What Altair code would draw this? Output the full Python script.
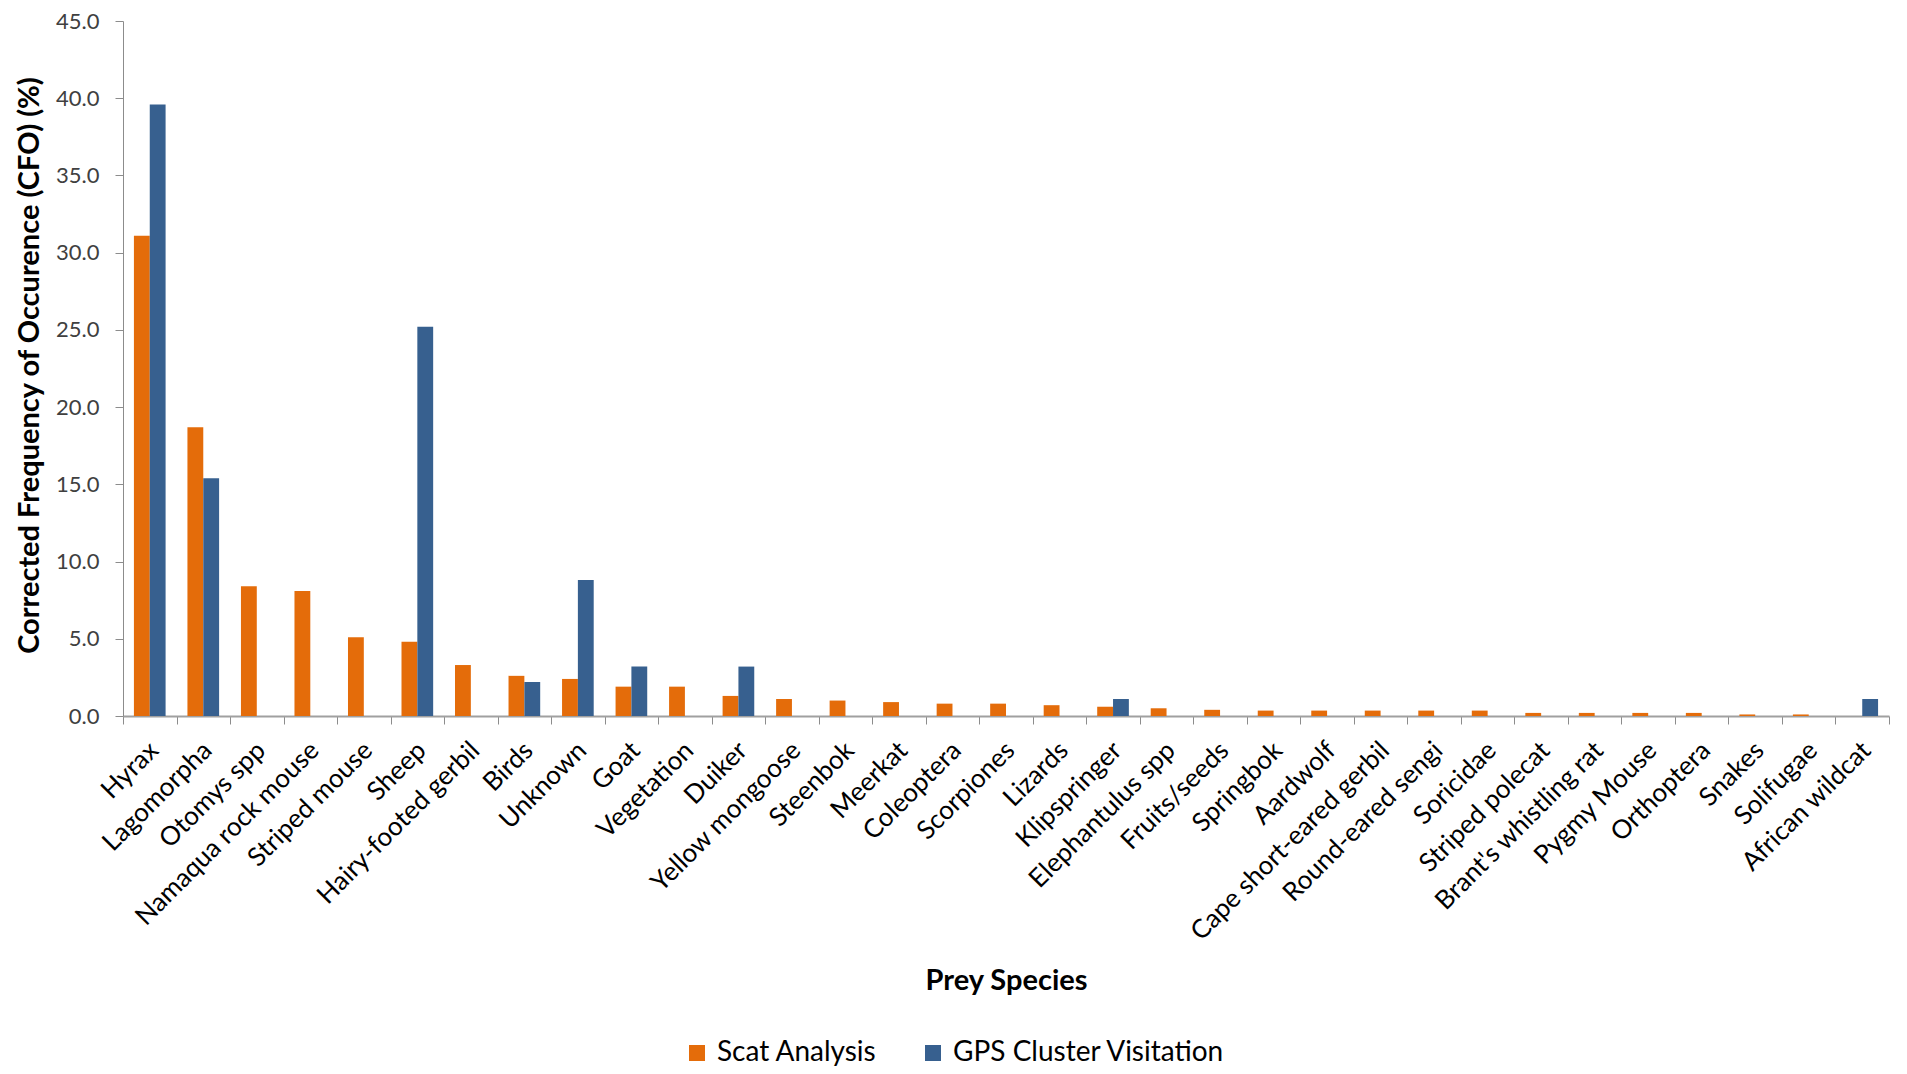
import altair as alt
import pandas as pd

species = ["Hyrax", "Lagomorpha", "Otomys spp", "Namaqua rock mouse", "Striped mouse",
           "Sheep", "Hairy-footed gerbil", "Birds", "Unknown", "Goat", "Vegetation",
           "Duiker", "Yellow mongoose", "Steenbok", "Meerkat", "Coleoptera", "Scorpiones",
           "Lizards", "Klipspringer", "Elephantulus spp", "Fruits/seeds", "Springbok",
           "Aardwolf", "Cape short-eared gerbil", "Round-eared sengi", "Soricidae",
           "Striped polecat", "Brant's whistling rat", "Pygmy Mouse", "Orthoptera",
           "Snakes", "Solifugae", "African wildcat"]
scat = [31.1, 18.7, 8.4, 8.1, 5.1, 4.8, 3.3, 2.6, 2.4, 1.9, 1.9,
        1.3, 1.1, 1.0, 0.9, 0.8, 0.8, 0.7, 0.6, 0.5, 0.4, 0.35,
        0.35, 0.35, 0.35, 0.35, 0.2, 0.2, 0.2, 0.2, 0.1, 0.1, 0.0]
gps = [39.6, 15.4, 0, 0, 0, 25.2, 0, 2.2, 8.8, 3.2, 0,
       3.2, 0, 0, 0, 0, 0, 0, 1.1, 0, 0, 0,
       0, 0, 0, 0, 0, 0, 0, 0, 0, 0, 1.1]
series = ["Scat Analysis", "GPS Cluster Visitation"]
colors = ["#E46C0A", "#37608F"]
y_ticks = [0, 5, 10, 15, 20, 25, 30, 35, 40, 45]

rows = []
for s, a, b in zip(species, scat, gps):
    rows.append({"species": s, "series": series[0], "value": a})
    rows.append({"species": s, "series": series[1], "value": b})
df = pd.DataFrame(rows)

FONT = "Lato"

chart = alt.Chart(df).mark_bar().encode(
    x=alt.X("species:N", sort=species,
            scale=alt.Scale(paddingInner=0, paddingOuter=0),
            axis=alt.Axis(title="Prey Species", labelAngle=-45, labelAlign="right",
                          labelBaseline="middle", labelFont=FONT,
                          labelFontSize=26, labelColor="#000000", labelLimit=600,
                          labelOverlap=False, labelPadding=22, labelOffset=4,
                          tickBand="extent",
                          tickSize=8, tickColor="#8C8C8C", domainColor="#A0A0A0",
                          domainWidth=2, titleFont=FONT, titleFontSize=29,
                          titleFontWeight="bold", titleColor="#000000",
                          titleX=883, titleY=264, titleBaseline="middle")),
    xOffset=alt.XOffset("series:N", sort=series,
                        scale=alt.Scale(domain=series, paddingInner=0, paddingOuter=0.69)),
    y=alt.Y("value:Q", scale=alt.Scale(domain=[0, 45], nice=False),
            axis=alt.Axis(title="Corrected Frequency of Occurence (CFO) (%)", values=y_ticks,
                          format=".1f", grid=False, labelFont=FONT, labelFontSize=22,
                          labelColor="#404040", labelPadding=16, tickSize=8,
                          tickColor="#8C8C8C", domainColor="#8C8C8C", domainWidth=1,
                          titleFont=FONT, titleFontSize=29, titleFontWeight="bold",
                          titleColor="#000000", titleX=-94, titleY=344,
                          titleBaseline="middle")),
    color=alt.Color("series:N", sort=series,
                    scale=alt.Scale(domain=series, range=colors),
                    legend=alt.Legend(title=None, orient="none", direction="horizontal",
                                      legendX=560, legendY=1018, symbolType="square",
                                      symbolSize=256, symbolStrokeWidth=0,
                                      labelFont=FONT, labelFontSize=28, labelLimit=600,
                                      labelColor="#000000", labelOffset=6,
                                      columnPadding=42, padding=0)),
).properties(
    width=1766, height=695,
    padding={"left": 115, "top": 13, "right": 10, "bottom": 350},
    autosize=alt.AutoSizeParams(type="none"),
).configure_view(stroke=None)

chart.save("out.html", embed_options={"renderer": "svg", "actions": False})
